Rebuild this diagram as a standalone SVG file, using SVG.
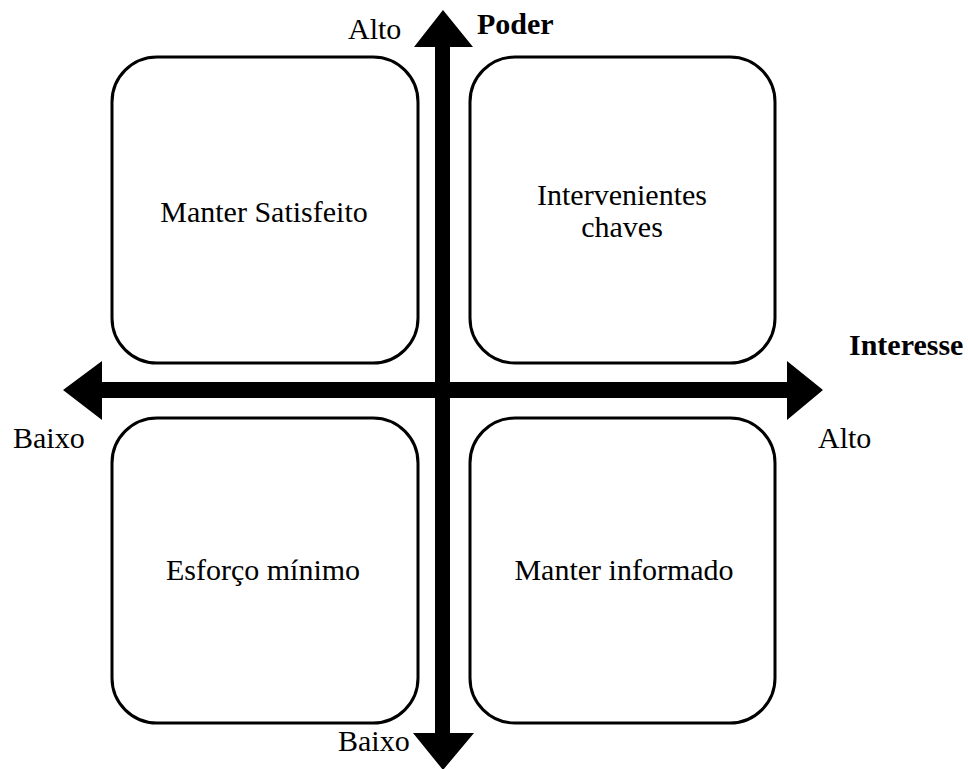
<svg xmlns="http://www.w3.org/2000/svg" width="968" height="769" viewBox="0 0 968 769">
<style>
.box{fill:#fff;stroke:#000;stroke-width:3}
.t{font-family:'Liberation Serif','DejaVu Serif',serif;font-size:30px;font-weight:normal;fill:#000}
.b{font-weight:bold}
.ax{fill:#000}
</style>
<rect width="968" height="769" fill="#fff"/>
<g id="q1"><rect class="box" x="112" y="57" width="306" height="306" rx="45"/><text class="t" x="264" y="222" text-anchor="middle">Manter Satisfeito</text></g>
<g id="q2"><rect class="box" x="470" y="57" width="305" height="306" rx="45"/><text class="t" x="622" y="205" text-anchor="middle">Intervenientes</text><text class="t" x="622" y="237" text-anchor="middle">chaves</text></g>
<g id="q3"><rect class="box" x="112" y="418" width="306" height="305" rx="45"/><text class="t" x="263" y="580" text-anchor="middle">Esforço mínimo</text></g>
<g id="q4"><rect class="box" x="470" y="418" width="305" height="305" rx="45"/><text class="t" x="624" y="580" text-anchor="middle">Manter informado</text></g>
<g id="axes">
<polygon class="ax" points="443,10 473,47 450,47 450,733 474,733 443,770 413,733 435,733 435,47 414,47"/>
<polygon class="ax" points="63,390 102,361 102,382 787,382 787,361 823,390 787,420 787,398 102,398 102,420"/>
</g>
<g id="labels">
<text class="t" x="348" y="39">Alto</text>
<text class="t b" x="477" y="34">Poder</text>
<text class="t b" x="849" y="355">Interesse</text>
<text class="t" x="13" y="448" font-size="28">Baixo</text>
<text class="t" x="818" y="448" font-size="28">Alto</text>
<text class="t" x="338" y="751">Baixo</text>
</g>
</svg>
